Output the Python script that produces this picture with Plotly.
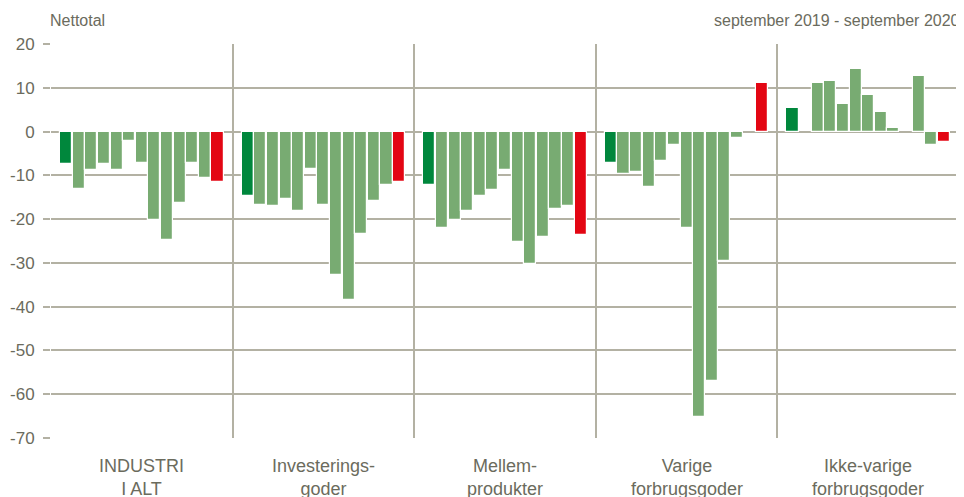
import plotly.graph_objects as go

months = ["sep 19", "okt 19", "nov 19", "dec 19", "jan 20", "feb 20", "mar 20",
          "apr 20", "maj 20", "jun 20", "jul 20", "aug 20", "sep 20"]
groups = ["INDUSTRI<br>I ALT", "Investerings-<br>goder", "Mellem-<br>produkter",
          "Varige<br>forbrugsgoder", "Ikke-varige<br>forbrugsgoder"]

industri_i_alt = [-7.4, -13.1, -8.8, -7.4, -8.8, -2.1, -7.2, -20.2, -24.7, -16.4, -7.2, -10.5, -11.5]
investeringsgoder = [-14.7, -16.8, -17.1, -15.4, -18.1, -8.5, -16.8, -32.8, -38.5, -23.5, -15.8, -12.1, -11.5]
mellemprodukter = [-12.1, -22.1, -20.2, -18.1, -14.8, -13.4, -8.8, -25.2, -30.2, -24.1, -17.8, -17.1, -23.7]
varige_forbrugsgoder = [-7.2, -9.8, -9.2, -12.7, -6.8, -3.1, -22.1, -65.3, -56.9, -29.5, -1.4, None, 11.1]
ikke_varige_forbrugsgoder = [5.4, None, 11.1, 11.5, 6.4, 14.4, 8.4, 4.4, 0.7, None, 12.7, -3.1, -2.4]

series = [industri_i_alt, investeringsgoder, mellemprodukter,
          varige_forbrugsgoder, ikke_varige_forbrugsgoder]

y_ticks = [20, 10, 0, -10, -20, -30, -40, -50, -60, -70]
y_tick_labels = ["20", "10", "0", "-10", "-20", "-30", "-40", "-50", "-60", "-70"]

DARK = "#00873C"
LIGHT = "#78AB72"
RED = "#E30613"
GRID = "#B3B1A3"
TXT = "#6B6B5D"
FONT = "Liberation Sans, Arial, sans-serif"

W = 14.4  # width of a group in bar slots
xs, ys, cols = [], [], []
for g, vals in enumerate(series):
    for i, v in enumerate(vals):
        xs.append(g * W + 1.2 + i)
        ys.append(v)
        if i == 0:
            cols.append(DARK)
        elif i == len(vals) - 1:
            cols.append(RED)
        else:
            cols.append(LIGHT)

fig = go.Figure()
fig.add_trace(go.Bar(
    x=xs, y=ys, width=0.96,
    marker=dict(color=cols, line=dict(color="white", width=1.2)),
    hoverinfo="y",
))

for g, name in enumerate(groups):
    fig.add_annotation(x=g * W + W / 2, y=-70, xref="x", yref="y",
                       text=name, showarrow=False, yanchor="top", yshift=-16,
                       font=dict(family=FONT, size=18, color=TXT))

fig.add_annotation(x=0, y=1, xref="paper", yref="paper", xanchor="left",
                   yanchor="bottom", yshift=13, xshift=-3, text="Nettotal", showarrow=False,
                   font=dict(family=FONT, size=16, color=TXT))
fig.add_annotation(x=1, y=1, xref="paper", yref="paper", xanchor="right",
                   yanchor="bottom", yshift=13, xshift=3,
                   text="september 2019 - september 2020", showarrow=False,
                   font=dict(family=FONT, size=16, color=TXT))

# the page places the figure 8px from the top-left corner
fig.update_layout(
    width=956, height=489,
    margin=dict(l=43, r=5, t=36, b=59, autoexpand=False),
    paper_bgcolor="white", plot_bgcolor="white",
    showlegend=False, bargap=0,
    font=dict(family=FONT, size=17, color=TXT),
    xaxis=dict(range=[0, 5 * W], tickvals=[g * W for g in range(6)],
               showticklabels=False, showgrid=True, gridcolor=GRID, gridwidth=2,
               zeroline=False, showline=False, ticks="", automargin=False),
    yaxis=dict(range=[-70, 20], tickvals=y_ticks, ticktext=y_tick_labels,
               showgrid=True, gridcolor=GRID,
               gridwidth=2, zeroline=True, zerolinecolor=GRID, zerolinewidth=2,
               ticks="outside", ticklen=7, tickcolor=GRID, tickwidth=2,
               ticklabelstandoff=5,
               showline=False, automargin=False,
               tickfont=dict(family=FONT, size=17, color=TXT)),
)

fig.write_html("out.html")
